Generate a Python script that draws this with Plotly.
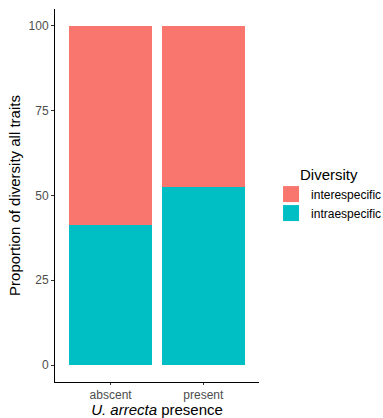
import plotly.graph_objects as go

categories = ["abscent", "present"]
intraespecific = [41.4, 52.4]
interespecific = [58.6, 47.6]
y_ticks = [0, 25, 50, 75, 100]

colors = {"interespecific": "#F8766D", "intraespecific": "#00BFC4"}

fig = go.Figure()
fig.add_trace(go.Bar(x=categories, y=intraespecific, name="intraespecific",
                     marker=dict(color=colors["intraespecific"], line=dict(width=0)),
                     width=0.9, showlegend=False, legendgroup="intra"))
fig.add_trace(go.Bar(x=categories, y=interespecific, name="interespecific",
                     marker=dict(color=colors["interespecific"], line=dict(width=0)),
                     width=0.9, showlegend=False, legendgroup="inter"))
# legend keys (larger square swatches, like ggplot keys)
for name, grp in [("interespecific", "inter"), ("intraespecific", "intra")]:
    fig.add_trace(go.Scatter(x=[None], y=[None], mode="markers", name=name,
                             legendgroup=grp,
                             marker=dict(symbol="square", size=16, color=colors[name],
                                         line=dict(width=0))))

font_family = "Liberation Sans, Arial, sans-serif"
fig.update_layout(
    barmode="stack",
    width=383, height=418,
    margin=dict(l=55, r=124, t=9, b=36, autoexpand=False),
    plot_bgcolor="white", paper_bgcolor="white",
    font=dict(family=font_family, color="black"),
    legend=dict(
        title=dict(text="Diversity", font=dict(size=15, color="black"), side="top center"),
        traceorder="normal",
        itemsizing="trace",
        x=1.059, xanchor="left", y=0.595, yanchor="top",
        font=dict(size=12, color="black"),
        itemwidth=30,
        tracegroupgap=2,
        bgcolor="rgba(0,0,0,0)",
    ),
    xaxis=dict(
        type="category", range=[-0.6, 1.6], automargin=False,
        showline=True, linecolor="black", linewidth=1,
        ticks="outside", ticklen=2, tickcolor="#333333",
        tickfont=dict(size=12, color="#4D4D4D"),
        title=dict(text="<i>U. arrecta</i> presence", font=dict(size=15, color="black"), standoff=2),
        showgrid=False, zeroline=False,
    ),
    yaxis=dict(
        range=[-5, 105], automargin=False,
        tickvals=y_ticks, ticktext=[str(v) for v in y_ticks],
        showline=True, linecolor="black", linewidth=1,
        ticks="outside", ticklen=3, tickcolor="#333333",
        tickfont=dict(size=12, color="#4D4D4D"),
        title=dict(text="Proportion of diversity all traits", font=dict(size=15, color="black"), standoff=4),
        showgrid=False, zeroline=False,
    ),
)
fig.write_html("out.html", config={"displayModeBar": False},
               post_script="document.body.style.margin='0';document.body.style.overflow='hidden';")
